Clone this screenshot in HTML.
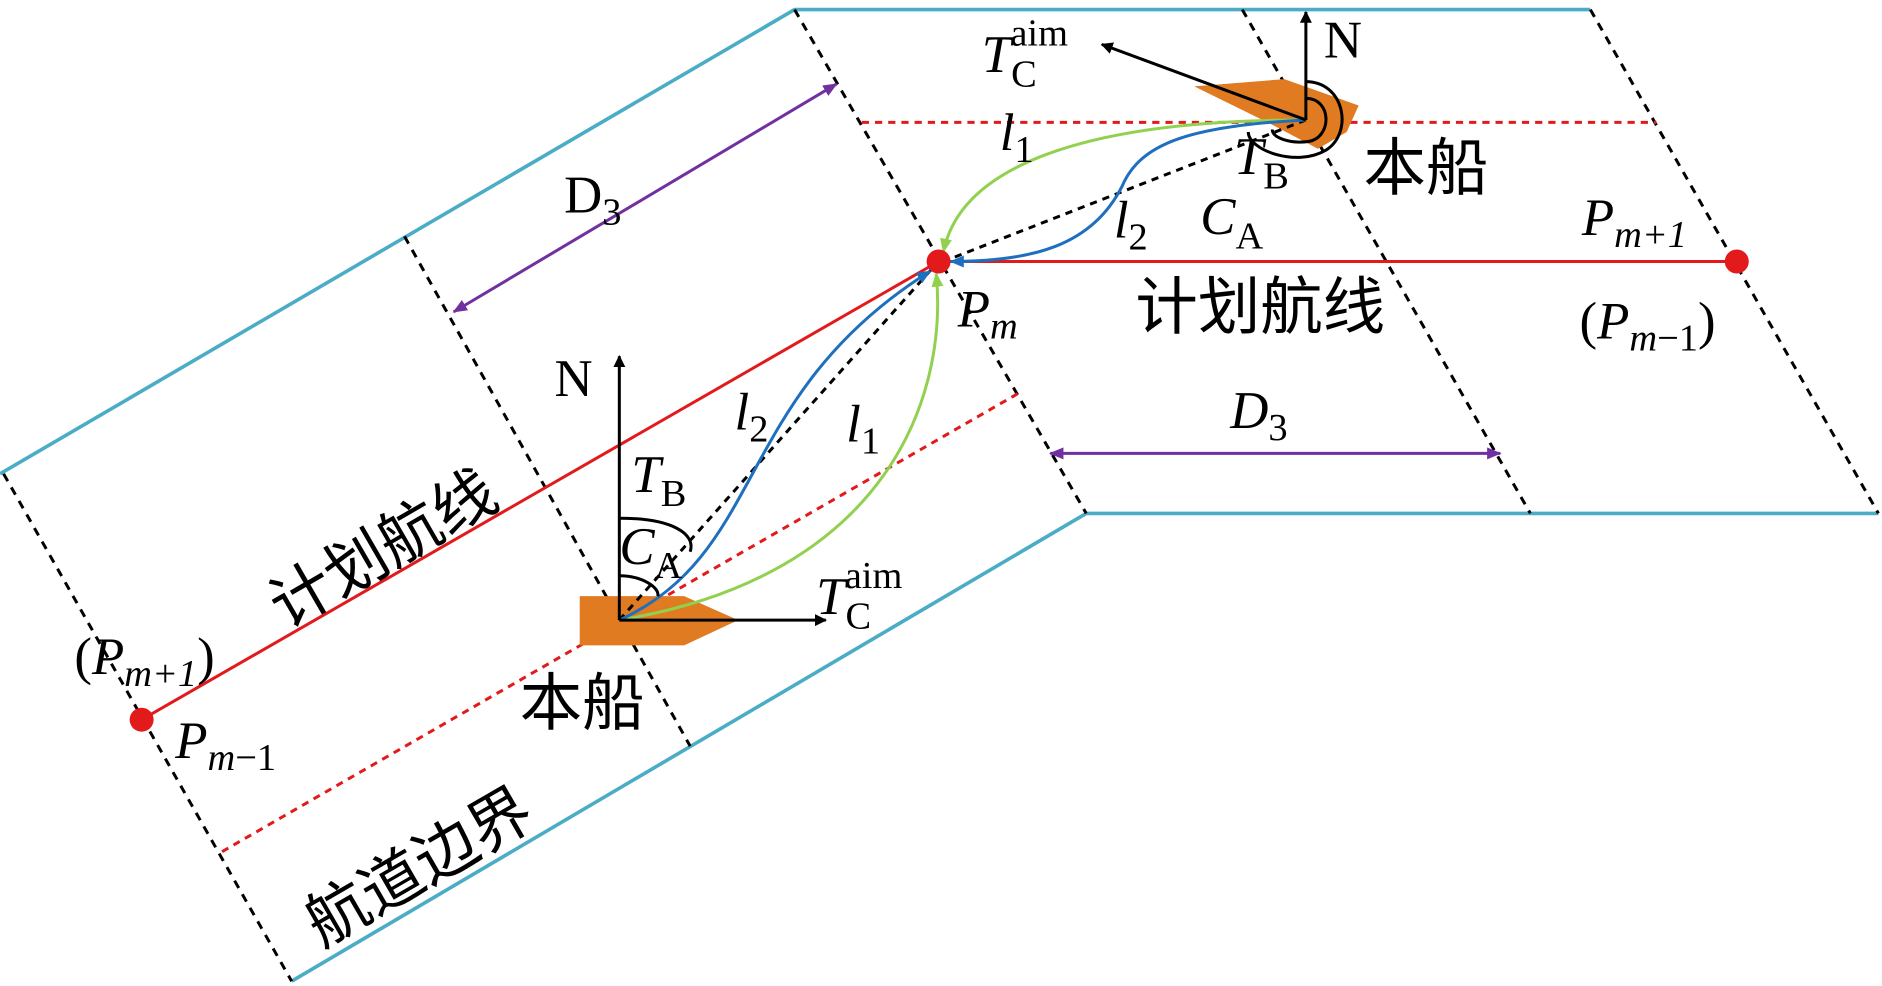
<!DOCTYPE html>
<html><head><meta charset="utf-8"><style>
html,body{margin:0;padding:0;background:#fff;}
svg{display:block;}
text{font-family:"Liberation Serif","Noto Serif CJK SC",serif;}
.cj{font-family:"Liberation Serif","Noto Sans CJK SC",sans-serif;font-size:52px;}
</style></head><body>
<svg width="1882" height="986" viewBox="0 0 1568 822" preserveAspectRatio="none" xmlns="http://www.w3.org/2000/svg">
<defs>
<marker id="ak" markerWidth="10" markerHeight="10" refX="9" refY="5" orient="auto" markerUnits="userSpaceOnUse"><path d="M0,0 L10,5 L0,10 Z" fill="#000"/></marker>
<marker id="ap" markerWidth="12" markerHeight="10" refX="11" refY="5" orient="auto-start-reverse" markerUnits="userSpaceOnUse"><path d="M0,0 L12,5 L0,10 Z" fill="#7030a0"/></marker>
<marker id="ag" markerWidth="12" markerHeight="10" refX="11" refY="5" orient="auto" markerUnits="userSpaceOnUse"><path d="M0,0 L12,5 L0,10 Z" fill="#92d050"/></marker>
<marker id="ab" markerWidth="12" markerHeight="10" refX="11" refY="5" orient="auto" markerUnits="userSpaceOnUse"><path d="M0,0 L12,5 L0,10 Z" fill="#1f6fbf"/></marker>
</defs>
<g stroke="#4bacc6" stroke-width="3" fill="none">
<polyline points="0,395 662,8 1325,8"/>
<polyline points="243,818 905,428 1565,428"/>
</g>
<g stroke="#000" stroke-width="2.5" stroke-dasharray="7,6" fill="none">
<line x1="3" y1="395" x2="243" y2="818"/>
<line x1="337" y1="197" x2="575" y2="622"/>
<line x1="662" y1="8" x2="905" y2="428"/>
<line x1="1035" y1="8" x2="1275" y2="428"/>
<line x1="1325" y1="8" x2="1565" y2="428"/>
</g>
<g stroke="#e31a1c" stroke-width="2.5" fill="none">
<polyline points="118,600 782,218 1447,218"/>
<line x1="185" y1="710" x2="850" y2="327" stroke-dasharray="6,5"/>
<line x1="718" y1="102" x2="1380" y2="102" stroke-dasharray="6,5"/>
</g>
<g stroke="#7030a0" stroke-width="2.5">
<line x1="378" y1="260" x2="697" y2="70" marker-start="url(#ap)" marker-end="url(#ap)"/>
<line x1="875" y1="378" x2="1250" y2="378" marker-start="url(#ap)" marker-end="url(#ap)"/>
</g>
<polygon points="483,497 570,497 615,517 570,538 483,538" fill="#e07b22"/>
<polygon points="995,72 1070,66 1132,88 1122,110 1098,124 1060,104" fill="#e07b22"/>
<g fill="none" stroke-width="2.5">
<line x1="516" y1="517" x2="780" y2="220" stroke="#000" stroke-dasharray="6,5"/>
<path d="M516,517 C740,480 790,330 780,228" stroke="#92d050" marker-end="url(#ag)"/>
<path d="M516,517 C640,460 610,330 775,226" stroke="#1f6fbf" marker-end="url(#ab)"/>
<line x1="1088" y1="100" x2="786" y2="218" stroke="#000" stroke-dasharray="6,5"/>
<path d="M1088,100 C900,100 800,140 786,210" stroke="#92d050" marker-end="url(#ag)"/>
<path d="M1088,100 C990,105 950,120 935,155 C910,205 860,218 792,218" stroke="#1f6fbf" marker-end="url(#ab)"/>
</g>
<g stroke="#000" stroke-width="2.5" fill="none">
<line x1="516" y1="517" x2="516" y2="297" marker-end="url(#ak)"/>
<line x1="516" y1="517" x2="688" y2="517" marker-end="url(#ak)"/>
<line x1="1088" y1="100" x2="1088" y2="10" marker-end="url(#ak)"/>
<line x1="1088" y1="100" x2="918" y2="37" marker-end="url(#ak)"/>
<path d="M516,432 C560,432 580,445 575,460"/>
<path d="M516,480 C535,480 550,490 548,497"/>
<path d="M1088,68 C1120,68 1128,110 1105,125 C1080,140 1040,125 1040,110"/>
<path d="M1088,82 C1110,82 1110,115 1090,118 C1075,120 1060,115 1060,108"/>
</g>
<circle cx="118" cy="600" r="10" fill="#e31a1c"/>
<circle cx="782" cy="218" r="10" fill="#e31a1c"/>
<circle cx="1447" cy="218" r="10" fill="#e31a1c"/>
<g font-size="44" fill="#000">
<text x="462" y="330">N</text>
<text x="1103" y="48">N</text>
<text x="526" y="410" font-style="italic">T<tspan font-style="normal" font-size="32" dy="12">B</tspan></text>
<text x="516" y="470" font-style="italic">C<tspan font-style="normal" font-size="32" dy="12">A</tspan></text>
<text x="680" y="512" font-style="italic">T<tspan font-style="normal" font-size="32" dy="12">C</tspan><tspan font-style="normal" font-size="32" dx="-22" dy="-34">aim</tspan></text>
<text x="818" y="60" font-style="italic">T<tspan font-style="normal" font-size="32" dy="12">C</tspan><tspan font-style="normal" font-size="32" dx="-22" dy="-34">aim</tspan></text>
<text x="1028" y="145" font-style="italic">T<tspan font-style="normal" font-size="32" dy="12">B</tspan></text>
<text x="1000" y="195" font-style="italic">C<tspan font-style="normal" font-size="32" dy="12">A</tspan></text>
<text x="612" y="358" font-style="italic">l<tspan font-style="normal" font-size="32" dy="10">2</tspan></text>
<text x="705" y="368" font-style="italic">l<tspan font-style="normal" font-size="32" dy="10">1</tspan></text>
<text x="833" y="125" font-style="italic">l<tspan font-style="normal" font-size="32" dy="10">1</tspan></text>
<text x="928" y="198" font-style="italic">l<tspan font-style="normal" font-size="32" dy="10">2</tspan></text>
<text x="470" y="177">D<tspan font-size="32" dy="10">3</tspan></text>
<text x="1025" y="357" font-style="italic">D<tspan font-style="normal" font-size="32" dy="10">3</tspan></text>
<text x="798" y="272" font-style="italic">P<tspan font-size="32" dy="10">m</tspan></text>
<text x="1318" y="196" font-style="italic">P<tspan font-size="32" dy="10">m+1</tspan></text>
<text x="1316" y="282">(<tspan font-style="italic">P</tspan><tspan font-style="italic" font-size="32" dy="10">m</tspan><tspan font-size="32">−1</tspan><tspan dy="-10">)</tspan></text>
<text x="62" y="562">(<tspan font-style="italic">P</tspan><tspan font-style="italic" font-size="32" dy="10">m+1</tspan><tspan dy="-10">)</tspan></text>
<text x="146" y="632" font-style="italic">P<tspan font-size="32" dy="10">m</tspan><tspan font-style="normal" font-size="32">−1</tspan></text>
<text class="cj" x="1136" y="158">本船</text>
<text class="cj" x="433" y="604">本船</text>
<text class="cj" x="946" y="274">计划航线</text>
<text class="cj" x="0" y="0" transform="translate(238,525) rotate(-30)">计划航线</text>
<text class="cj" x="0" y="0" transform="translate(268,790) rotate(-30)">航道边界</text>
</g>
</svg>
</body></html>
